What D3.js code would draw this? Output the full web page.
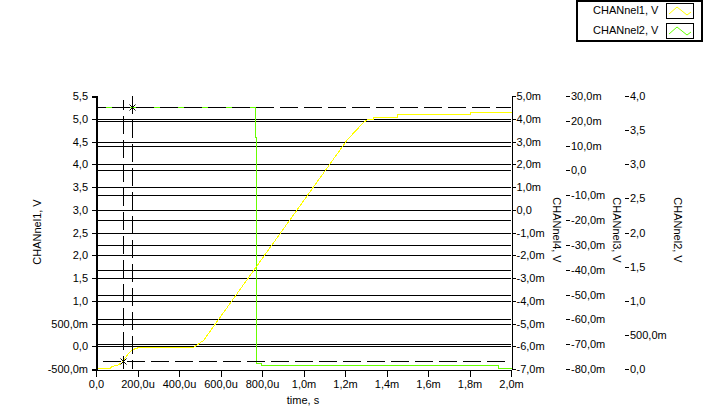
<!DOCTYPE html>
<html><head><meta charset="utf-8">
<script src="https://cdn.jsdelivr.net/npm/d3@7"></script>
<style>
html,body{margin:0;padding:0;background:#fff;}
svg{display:block;font-family:"Liberation Sans",Arial,sans-serif;font-size:11px;}
</style></head><body>
<svg id="c" width="708" height="409"></svg>
<script>
// ---------- data ----------
const timeTicks = [0, 2e-4, 4e-4, 6e-4, 8e-4, 1e-3, 1.2e-3, 1.4e-3, 1.6e-3, 1.8e-3, 2e-3];
const timeTickLabels = ["0,0","200,0u","400,0u","600,0u","800,0u","1,0m","1,2m","1,4m","1,6m","1,8m","2,0m"];

const ch1Ticks = [-0.5, 0, 0.5, 1, 1.5, 2, 2.5, 3, 3.5, 4, 4.5, 5, 5.5];
const ch1TickLabels = ["-500,0m","0,0","500,0m","1,0","1,5","2,0","2,5","3,0","3,5","4,0","4,5","5,0","5,5"];

const ch4Ticks = [-7e-3, -6e-3, -5e-3, -4e-3, -3e-3, -2e-3, -1e-3, 0, 1e-3, 2e-3, 3e-3, 4e-3, 5e-3];
const ch4TickLabels = ["-7,0m","-6,0m","-5,0m","-4,0m","-3,0m","-2,0m","-1,0m","0,0","1,0m","2,0m","3,0m","4,0m","5,0m"];

const ch3Ticks = [-80e-3, -70e-3, -60e-3, -50e-3, -40e-3, -30e-3, -20e-3, -10e-3, 0, 10e-3, 20e-3, 30e-3];
const ch3TickLabels = ["-80,0m","-70,0m","-60,0m","-50,0m","-40,0m","-30,0m","-20,0m","-10,0m","0,0","10,0m","20,0m","30,0m"];

const ch2Ticks = [0, 0.5, 1, 1.5, 2, 2.5, 3, 3.5, 4];
const ch2TickLabels = ["0,0","500,0m","1,0","1,5","2,0","2,5","3,0","3,5","4,0"];

// CHANnel1 (yellow, left axis)
const ch1Time   = [0, 67e-6, 72e-6, 101e-6, 120e-6, 140e-6, 154e-6, 169e-6, 188e-6, 207e-6, 467e-6, 516e-6,
                   1210e-6, 1287e-6, 1306e-6, 1335e-6, 1335e-6, 1450e-6, 1450e-6, 1802e-6, 1802e-6, 2000e-6];
const ch1Values = [-0.48, -0.48, -0.43, -0.42, -0.35, -0.24, -0.15, -0.08, -0.04, -0.02, -0.02, 0.13,
                   4.55, 4.93, 5.0, 5.0, 5.04, 5.04, 5.10, 5.10, 5.155, 5.155];

// CHANnel2 (green, CHANnel2 axis)
const ch2Time   = [0, 766e-6, 766e-6, 773e-6, 773e-6, 793e-6, 793e-6, 1937e-6, 1937e-6, 2000e-6];
const ch2Values = [3.84, 3.84, 3.40, 3.40, 0.09, 0.09, 0.06, 0.06, 0.01, 0.01];

// cursors
const cursorNames  = ["Cursor 1", "Cursor 2"];
const cursorTimes  = [173e-6, 130e-6];
const cursorValues = [3.84, -0.33];
const cursorAxes   = ["ch2", "ch1"];

const legendNames = ["CHANnel1, V", "CHANnel2, V"];
const legendColors = ["#ffff00", "#66ff00"];

// ---------- chart ----------
const svg = d3.select("#c");
const L = 96, R = 511, T = 96, B = 369;

const x  = d3.scaleLinear().domain([0, 2e-3]).range([L, R]);
const y1 = d3.scaleLinear().domain([-0.5, 5.5]).range([B, T]);
const y4 = d3.scaleLinear().domain([-7e-3, 5e-3]).range([B, T]);
const y3 = d3.scaleLinear().domain([-80e-3, 30e-3]).range([B, T]);
const y2 = d3.scaleLinear().domain([0, 4]).range([B, T]);
const yOf = {ch1: y1, ch2: y2};
const px = v => Math.round(v) + 0.5;

// grid lines
const grid = svg.append("g").attr("shape-rendering", "crispEdges");
grid.selectAll("line.g1").data(ch1Ticks.filter(d => d > -0.5 && d < 5.5)).join("line")
  .attr("class", "g1")
  .attr("x1", L).attr("x2", R).attr("y1", d => px(y1(d))).attr("y2", d => px(y1(d)))
  .attr("stroke", "#000");
grid.selectAll("line.g3").data(ch3Ticks.filter(d => d > -80e-3 && d < 30e-3)).join("line")
  .attr("class", "g3")
  .attr("x1", L).attr("x2", R).attr("y1", d => px(y3(d))).attr("y2", d => px(y3(d)))
  .attr("stroke", "#000");

// traces
const line = (ys) => d3.line().x(d => px(x(d[0]))).y(d => px(ys(d[1])));
svg.append("path").datum(ch2Time.map((t, i) => [t, ch2Values[i]]))
  .attr("d", line(y2)).attr("fill", "none").attr("stroke", legendColors[1]).attr("stroke-width", 1)
  .attr("shape-rendering", "crispEdges");
svg.append("path").datum(ch1Time.map((t, i) => [t, ch1Values[i]]))
  .attr("d", line(y1)).attr("fill", "none").attr("stroke", legendColors[0]).attr("stroke-width", 1)
  .attr("shape-rendering", "crispEdges");

// cursors
const cur = svg.append("g").attr("shape-rendering", "crispEdges");
cursorTimes.forEach((t, i) => {
  const cx = px(x(t)), cy = px(yOf[cursorAxes[i]](cursorValues[i]));
  cur.append("line").attr("x1", cx).attr("x2", cx).attr("y1", i === 0 ? T : T + 4).attr("y2", B)
    .attr("stroke", "#000").attr("stroke-dasharray", "18,6").attr("stroke-dashoffset", i === 0 ? 0 : 8);
  cur.append("line").attr("x1", L + 1).attr("x2", R).attr("y1", cy).attr("y2", cy)
    .attr("stroke", "#000").attr("stroke-dasharray", "18,6").attr("stroke-dashoffset", i === 0 ? 9 : 18);
  svg.append("path").attr("d", `M${cx-3},${cy-3}L${cx+3},${cy+3}M${cx-3},${cy+3}L${cx+3},${cy-3}`)
    .attr("stroke", "#000").attr("stroke-width", 1).attr("fill", "none");
});

// axes
const fmt = (labels, ticks) => (d) => labels[ticks.indexOf(d)];
const axL = svg.append("g").attr("transform", `translate(${L},0)`)
  .call(d3.axisLeft(y1).tickValues(ch1Ticks).tickFormat(fmt(ch1TickLabels, ch1Ticks)).tickSize(4).tickPadding(4));
axL.select(".domain").attr("stroke-width", 2);

const axB = svg.append("g").attr("transform", `translate(0,${B + 0.5})`)
  .call(d3.axisBottom(x).tickValues(timeTicks).tickFormat(fmt(timeTickLabels, timeTicks)).tickSize(7).tickPadding(4).tickSizeOuter(0));

const ax4 = svg.append("g").attr("transform", `translate(${R + 0.5},0)`)
  .call(d3.axisRight(y4).tickValues(ch4Ticks).tickFormat(fmt(ch4TickLabels, ch4Ticks)).tickSize(4).tickPadding(1).tickSizeOuter(0));

const ax3 = svg.append("g").attr("transform", `translate(566,0)`)
  .call(d3.axisRight(y3).tickValues(ch3Ticks).tickFormat(fmt(ch3TickLabels, ch3Ticks)).tickSize(4).tickPadding(1));
ax3.select(".domain").remove();

const ax2 = svg.append("g").attr("transform", `translate(625,0)`)
  .call(d3.axisRight(y2).tickValues(ch2Ticks).tickFormat(fmt(ch2TickLabels, ch2Ticks)).tickSize(4).tickPadding(1));
ax2.select(".domain").remove();

svg.selectAll(".tick text").attr("font-family", "Liberation Sans, Arial, sans-serif").attr("font-size", 11).attr("fill", "#000");
svg.selectAll(".tick line, .domain").attr("shape-rendering", "crispEdges");

// axis titles
svg.append("text").attr("x", 303).attr("y", 404).attr("text-anchor", "middle").text("time, s");
svg.append("text").attr("transform", "translate(41,232) rotate(-90)").attr("text-anchor", "middle").text("CHANnel1, V");
svg.append("text").attr("transform", "translate(553,230) rotate(90)").attr("text-anchor", "middle").text("CHANnel4, V");
svg.append("text").attr("transform", "translate(613,230) rotate(90)").attr("text-anchor", "middle").text("CHANnel3, V");
svg.append("text").attr("transform", "translate(674,230) rotate(90)").attr("text-anchor", "middle").text("CHANnel2, V");

// legend
const lg = svg.append("g").attr("shape-rendering", "crispEdges");
lg.append("rect").attr("x", 577).attr("y", 1).attr("width", 125).attr("height", 40)
  .attr("fill", "#fff").attr("stroke", "#000").attr("stroke-width", 2);
legendNames.forEach((n, i) => {
  const yy = 3 + i * 20;
  svg.append("text").attr("x", 593).attr("y", yy + 11).text(n);
  svg.append("rect").attr("x", 666.5).attr("y", yy + 0.5).attr("width", 27).attr("height", 15)
    .attr("fill", "#fff").attr("stroke", "#000").attr("shape-rendering", "crispEdges");
  svg.append("path").attr("d", `M${669},${yy + 11}L${677},${yy + 4}L${687},${yy + 12}L${691},${yy + 9}`)
    .attr("fill", "none").attr("stroke", legendColors[i]).attr("stroke-width", 1);
});
</script>
</body></html>
